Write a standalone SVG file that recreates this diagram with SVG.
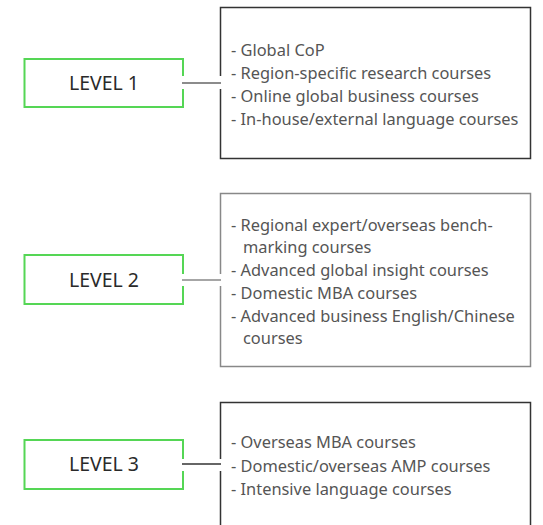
<svg xmlns="http://www.w3.org/2000/svg" width="543" height="525" viewBox="0 0 543 525">
<style>
.lvl{fill:#fff;stroke:#55d655;stroke-width:2}
.box{fill:#fff;stroke-width:1.5}
.lt{font-family:"Noto Sans",sans-serif;font-size:19.5px;fill:#2a2a2a;text-anchor:middle}
.it{font-family:"Noto Sans",sans-serif;font-size:16.4px;fill:#555}
.gap{fill:#fff}
.con{stroke-width:1.5}
</style>
<rect width="543" height="525" fill="#fff"/>
<g id="level1">
<rect class="lvl" x="24.5" y="59" width="158.5" height="48"/>
<text class="lt" x="104" y="90">LEVEL 1</text>
</g>
<g id="box1">
<rect class="box" x="220.5" y="7.5" width="310" height="151" stroke="#333"/>
<text class="it" x="231" y="56">- Global CoP</text>
<text class="it" x="231" y="79">- Region-specific research courses</text>
<text class="it" x="231" y="102">- Online global business courses</text>
<text class="it" x="231" y="125">- In-house/external language courses</text>
</g>
<g id="level2">
<rect class="lvl" x="24.5" y="255" width="158.5" height="49"/>
<text class="lt" x="104" y="287">LEVEL 2</text>
</g>
<g id="box2">
<rect class="box" x="220.5" y="193.5" width="310" height="173" stroke="#888"/>
<text class="it" x="231" y="231">- Regional expert/overseas bench-</text>
<text class="it" x="243" y="253">marking courses</text>
<text class="it" x="231" y="276">- Advanced global insight courses</text>
<text class="it" x="231" y="299">- Domestic MBA courses</text>
<text class="it" x="231" y="322">- Advanced business English/Chinese</text>
<text class="it" x="243" y="344">courses</text>
</g>
<g id="level3">
<rect class="lvl" x="24.5" y="440" width="158.5" height="49"/>
<text class="lt" x="104" y="471">LEVEL 3</text>
</g>
<g id="box3">
<rect class="box" x="220.5" y="402.5" width="310" height="140" stroke="#333"/>
<text class="it" x="231" y="448">- Overseas MBA courses</text>
<text class="it" x="231" y="472">- Domestic/overseas AMP courses</text>
<text class="it" x="231" y="495">- Intensive language courses</text>
</g>
<g id="connectors">
<rect class="gap" x="181" y="76" width="42" height="13"/>
<rect class="gap" x="181" y="274" width="42" height="12"/>
<rect class="gap" x="181" y="459" width="42" height="12"/>
<line class="con" x1="182" y1="83" x2="221" y2="83" stroke="#666"/>
<line class="con" x1="182" y1="280" x2="221" y2="280" stroke="#888"/>
<line class="con" x1="182" y1="464" x2="221" y2="464" stroke="#333"/>
</g>
</svg>
